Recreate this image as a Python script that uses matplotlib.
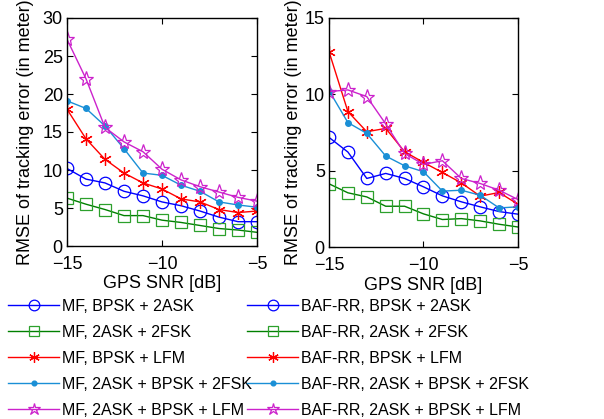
import matplotlib
matplotlib.use("Agg")
import matplotlib.pyplot as plt

plt.rcParams['font.family'] = ['Liberation Sans', 'DejaVu Sans']

snr = [-15, -14, -13, -12, -11, -10, -9, -8, -7, -6, -5]

mf_bpsk_2ask = [10.2, 8.8, 8.3, 7.2, 6.6, 5.8, 5.3, 4.6, 3.8, 3.2, 3.2]
mf_2ask_2fsk = [6.3, 5.5, 4.8, 4.0, 4.0, 3.4, 3.1, 2.7, 2.3, 2.1, 1.8]
mf_bpsk_lfm = [18.0, 14.1, 11.4, 9.6, 8.3, 7.5, 6.2, 5.8, 4.8, 4.4, 4.6]
mf_2ask_bpsk_2fsk = [19.1, 18.1, 15.8, 12.8, 9.6, 9.3, 8.0, 7.2, 5.8, 5.4, 5.1]
mf_2ask_bpsk_lfm = [27.2, 22.0, 15.6, 13.7, 12.4, 10.1, 8.7, 7.8, 7.1, 6.4, 5.9]

baf_bpsk_2ask = [7.18, 6.22, 4.49, 4.82, 4.49, 3.94, 3.35, 2.96, 2.63, 2.32, 2.15]
baf_2ask_2fsk = [4.14, 3.55, 3.28, 2.67, 2.67, 2.17, 1.80, 1.86, 1.71, 1.49, 1.31]
baf_bpsk_lfm = [12.8, 8.87, 7.55, 7.77, 6.24, 5.54, 4.88, 4.20, 3.33, 3.57, 2.80]
baf_2ask_bpsk_2fsk = [10.25, 8.15, 7.44, 5.96, 5.32, 4.93, 3.66, 3.72, 3.39, 2.56, 2.63]
baf_2ask_bpsk_lfm = [10.18, 10.29, 9.85, 8.06, 6.13, 5.41, 5.65, 4.49, 4.16, 3.72, 3.11]

mf_labels = ["MF, BPSK + 2ASK", "MF, 2ASK + 2FSK", "MF, BPSK + LFM",
             "MF, 2ASK + BPSK + 2FSK", "MF, 2ASK + BPSK + LFM"]
baf_labels = ["BAF-RR, BPSK + 2ASK", "BAF-RR, 2ASK + 2FSK", "BAF-RR, BPSK + LFM",
              "BAF-RR, 2ASK + BPSK + 2FSK", "BAF-RR, 2ASK + BPSK + LFM"]

styles = [
    dict(color='#0000ff', marker='o', markersize=9, markerfacecolor='none', markeredgewidth=0.9),
    dict(color='#008000', marker='s', markersize=9, markerfacecolor='none', markeredgecolor='#2ca02c', markeredgewidth=0.9),
    dict(color='#ff0000', marker=(6, 2, 0), markersize=9, markeredgewidth=0.9),
    dict(color='#1a8fd6', marker='.', markersize=8),
    dict(color='#cc22cc', marker='*', markersize=11, markerfacecolor='none', markeredgewidth=0.9),
]

fs_ax = 13
fs_leg = 11.5
W, H = 604, 419
fig = plt.figure(figsize=(W / 100, H / 100), dpi=100)

def box(l, t, r, b):
    return [l / W, 1 - b / H, (r - l) / W, (b - t) / H]

ax1 = fig.add_axes(box(67, 18, 257, 246))
ax2 = fig.add_axes(box(329, 18, 518, 247))

mf_series = [mf_bpsk_2ask, mf_2ask_2fsk, mf_bpsk_lfm, mf_2ask_bpsk_2fsk, mf_2ask_bpsk_lfm]
baf_series = [baf_bpsk_2ask, baf_2ask_2fsk, baf_bpsk_lfm, baf_2ask_bpsk_2fsk, baf_2ask_bpsk_lfm]

h1, h2 = [], []
for s, lab, st in zip(mf_series, mf_labels, styles):
    h1.append(ax1.plot(snr, s, linewidth=1, label=lab, **st)[0])
for s, lab, st in zip(baf_series, baf_labels, styles):
    h2.append(ax2.plot(snr, s, linewidth=1, label=lab, **st)[0])

for ax, ymax, yt, lp in [(ax1, 30, range(0, 31, 5), 6), (ax2, 15, range(0, 16, 5), 2)]:
    ax.set_xlim(-15, -5)
    ax.set_ylim(0, ymax)
    ax.set_xticks([-15, -10, -5])
    ax.set_yticks(list(yt))
    ax.tick_params(direction='in', top=True, right=True, labelsize=fs_ax, length=4, width=0.8)
    ax.tick_params(axis='x', pad=7)
    ax.tick_params(axis='y', pad=3)
    ax.set_xlabel("GPS SNR [dB]", fontsize=fs_ax, labelpad=2)
    ax.set_ylabel("RMSE of tracking error (in meter)", fontsize=fs_ax, labelpad=lp)
    for sp in ax.spines.values():
        sp.set_linewidth(1.0)

leg_kw = dict(frameon=False, fontsize=fs_leg, handlelength=3.2, handletextpad=0.2,
              labelspacing=0.69, borderaxespad=0, borderpad=0, loc='upper left',
              markerscale=0.85)
fig.legend(handles=h1, bbox_to_anchor=(8 / W, 1 - 299 / H), **leg_kw)
fig.legend(handles=h2, bbox_to_anchor=(247 / W, 1 - 299 / H), **leg_kw)

fig.savefig("out.png", dpi=100)
